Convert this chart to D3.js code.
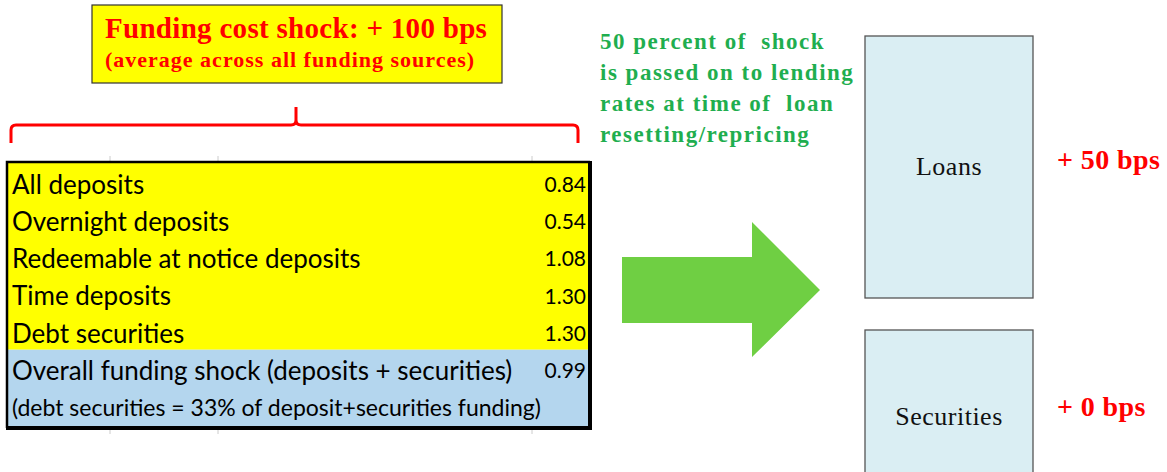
<!DOCTYPE html>
<html>
<head>
<meta charset="utf-8">
<script src="https://cdn.jsdelivr.net/npm/d3@7"></script>
<style>
  body { margin: 0; background: #fff; }
  svg { display: block; }
</style>
</head>
<body>
<div id="chart"></div>
<script>
// values
const titleLines = ["Funding cost shock: + 100 bps", "(average across all funding sources)"];
const rowLabels = ["All deposits", "Overnight deposits", "Redeemable at notice deposits",
                   "Time deposits", "Debt securities", "Overall funding shock (deposits + securities)",
                   "(debt securities = 33% of deposit+securities funding)"];
const rowValues = [0.84, 0.54, 1.08, 1.30, 1.30, 0.99, null];
const noteLines = ["50 percent of  shock", "is passed on to lending", "rates at time of  loan", "resetting/repricing"];
const assets = ["Loans", "Securities"];
const assetShock = ["+ 50 bps", "+ 0 bps"];

const width = 1167, height = 472;
const serif = "'Liberation Serif', 'Times New Roman', serif";
const sans = "Lato, 'Open Sans', sans-serif";

const svg = d3.select("#chart").append("svg")
    .attr("width", width)
    .attr("height", height);

// --- top title box
const title = svg.append("g");
title.append("rect")
    .attr("x", 92).attr("y", 5)
    .attr("width", 410).attr("height", 78)
    .attr("fill", "#ffff00")
    .attr("stroke", "#333").attr("stroke-width", 1.2);
title.selectAll("text")
    .data(titleLines)
    .enter().append("text")
    .attr("x", 105)
    .attr("y", (d, i) => i === 0 ? 38 : 67)
    .attr("font-family", serif)
    .attr("font-weight", "bold")
    .attr("font-size", (d, i) => i === 0 ? 29 : 22)
    .attr("letter-spacing", (d, i) => i === 0 ? 0.3 : 1)
    .attr("fill", "#ff0000")
    .text(d => d);

// --- brace under the title
const bx0 = 11, bx1 = 578, bmid = 296, by = 125;
svg.append("path")
    .attr("d", `M${bx0},143 L${bx0},${by + 5} Q${bx0},${by} ${bx0 + 5},${by}
                L${bmid - 5},${by} Q${bmid},${by} ${bmid},${by - 5} L${bmid},107
                L${bmid},${by - 5} Q${bmid},${by} ${bmid + 5},${by}
                L${bx1 - 5},${by} Q${bx1},${by} ${bx1},${by + 5} L${bx1},143`)
    .attr("fill", "none")
    .attr("stroke", "#ff0000")
    .attr("stroke-width", 3);

// --- table of funding shocks
const tx0 = 7, tx1 = 590, ty0 = 162, ty1 = 428;
const y = d3.scaleBand()
    .domain(d3.range(rowLabels.length))
    .range([ty0 + 4, ty1 - 2]);

const table = svg.append("g");
// light grid ticks peeking above/below the table
[110, 218, 532].forEach(x => {
    table.append("line").attr("x1", x).attr("x2", x).attr("y1", ty0 - 6).attr("y2", ty0)
        .attr("stroke", "#ccc").attr("stroke-width", 1);
    table.append("line").attr("x1", x).attr("x2", x).attr("y1", ty1).attr("y2", ty1 + 6)
        .attr("stroke", "#ccc").attr("stroke-width", 1);
});

const splitY = y(5) - 2;
table.append("rect")
    .attr("x", tx0).attr("y", ty0)
    .attr("width", tx1 - tx0).attr("height", splitY - ty0)
    .attr("fill", "#ffff00");
table.append("rect")
    .attr("x", tx0).attr("y", splitY)
    .attr("width", tx1 - tx0).attr("height", ty1 - splitY)
    .attr("fill", "#b4d6ee");
// border: thin on top/left, heavier on right/bottom like the original
table.append("path")
    .attr("d", `M${tx0},${ty1} L${tx0},${ty0} L${tx1},${ty0}`)
    .attr("fill", "none")
    .attr("stroke", "#000").attr("stroke-width", 2.5);
table.append("path")
    .attr("d", `M${tx1},${ty0 - 1} L${tx1},${ty1} L${tx0 - 1},${ty1}`)
    .attr("fill", "none")
    .attr("stroke", "#000").attr("stroke-width", 4);

const rows = table.selectAll("g.row")
    .data(rowLabels)
    .enter().append("g")
    .attr("class", "row")
    .attr("transform", (d, i) => `translate(0,${y(i) + y.bandwidth() / 2})`);
rows.append("text")
    .attr("x", 12)
    .attr("dy", "0.36em")
    .attr("font-family", sans)
    .attr("font-size", (d, i) => i === 6 ? 23 : 26)
    .attr("fill", "#000")
    .text(d => d);
rows.append("text")
    .attr("x", 586)
    .attr("dy", "0.36em")
    .attr("text-anchor", "end")
    .attr("font-family", sans)
    .attr("font-size", 21)
    .attr("fill", "#000")
    .text((d, i) => rowValues[i] === null ? "" : d3.format(".2f")(rowValues[i]));

// --- green note
svg.append("g").selectAll("text")
    .data(noteLines)
    .enter().append("text")
    .attr("x", 600)
    .attr("y", (d, i) => 49 + i * 31)
    .attr("font-family", serif)
    .attr("font-weight", "bold")
    .attr("font-size", 23)
    .attr("letter-spacing", 1.5)
    .attr("fill", "#1fae4f")
    .attr("xml:space", "preserve")
    .style("white-space", "pre")
    .text(d => d);

// --- big arrow
svg.append("path")
    .attr("d", "M622,257 L752,257 L752,222 L820,290 L752,357 L752,323 L622,323 Z")
    .attr("fill", "#6fcf43");

// --- asset boxes
const boxY = d3.scaleOrdinal().domain(assets).range([36, 330]);
const boxH = d3.scaleOrdinal().domain(assets).range([262, 160]);
const boxes = svg.append("g").selectAll("g")
    .data(assets)
    .enter().append("g");
boxes.append("rect")
    .attr("x", 865)
    .attr("y", d => boxY(d))
    .attr("width", 168)
    .attr("height", d => boxH(d))
    .attr("fill", "#daeef3")
    .attr("stroke", "#555").attr("stroke-width", 1.3);
boxes.append("text")
    .attr("x", 949)
    .attr("y", (d, i) => i === 0 ? 175 : 425)
    .attr("text-anchor", "middle")
    .attr("font-family", serif)
    .attr("font-size", 26)
    .attr("letter-spacing", 0.5)
    .attr("fill", "#111")
    .text(d => d);
boxes.append("text")
    .attr("x", 1057)
    .attr("y", (d, i) => i === 0 ? 169 : 416)
    .attr("font-family", serif)
    .attr("font-weight", "bold")
    .attr("font-size", 28)
    .attr("letter-spacing", 0.4)
    .attr("fill", "#ff0000")
    .text((d, i) => assetShock[i]);
</script>
</body>
</html>
